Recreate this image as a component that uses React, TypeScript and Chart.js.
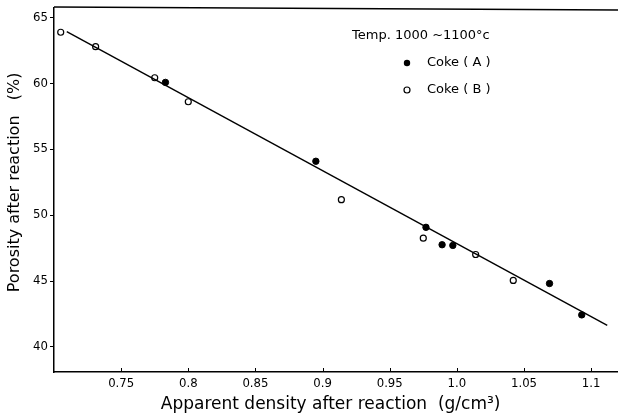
import React, { useEffect, useRef } from "react";
import { Chart, registerables } from "chart.js";

Chart.register(...registerables);

// ---- data ----
const COKE_A_X = [0.783, 0.895, 0.977, 0.989, 0.997, 1.069, 1.093];
const COKE_A_Y = [60.06, 54.08, 49.07, 47.75, 47.7, 44.81, 42.43];
const COKE_B_X = [0.705, 0.731, 0.775, 0.8, 0.914, 0.975, 1.014, 1.042];
const COKE_B_Y = [63.86, 62.77, 60.41, 58.59, 51.17, 48.25, 47.01, 45.04];
const FIT_X = [0.7095, 1.112];
const FIT_Y = [63.91, 41.64];
const X_TICKS = [0.75, 0.8, 0.85, 0.9, 0.95, 1.0, 1.05, 1.1];
const X_TICK_LABELS = ["0.75", "0.8", "0.85", "0.9", "0.95", "1.0", "1.05", "1.1"];
const Y_TICKS = [40, 45, 50, 55, 60, 65];
const Y_TICK_LABELS = ["40", "45", "50", "55", "60", "65"];
const LEGEND_TITLE = "Temp. 1000 ~1100°c";
const SERIES_NAMES = ["Coke ( A )", "Coke ( B )"];
const X_TITLE = "Apparent density after reaction  (g/cm³)  ";
const Y_TITLE = "   Porosity after reaction   (%)";

const FONT = "'DejaVu Sans', sans-serif";
const TICK_FONT = "'DejaVu Sans Condensed', 'DejaVu Sans', sans-serif";

const toPts = (xs: number[], ys: number[]) => xs.map((x, i) => ({ x, y: ys[i] }));

const decor = {
  id: "decor",
  afterDraw(chart: any) {
    const { ctx, chartArea: ca, scales } = chart;
    const xs = scales.x;
    ctx.save();
    ctx.strokeStyle = "#000";
    ctx.lineWidth = 1.5;
    ctx.beginPath();
    ctx.moveTo(ca.left, ca.top - 1);
    ctx.lineTo(ca.right, ca.top + 2);
    ctx.stroke();
    // inward ticks on the x axis
    ctx.lineWidth = 1;
    ctx.beginPath();
    for (const v of X_TICKS) {
      const px = Math.round(xs.getPixelForValue(v)) + 0.5;
      ctx.moveTo(px, ca.bottom);
      ctx.lineTo(px, ca.bottom - 4);
    }
    ctx.stroke();
    // legend
    ctx.fillStyle = "#000";
    ctx.textBaseline = "middle";
    ctx.textAlign = "left";
    ctx.font = `13px ${FONT}`;
    ctx.fillText(LEGEND_TITLE, 352, 36);
    ctx.fillText(SERIES_NAMES[0], 427, 63);
    ctx.fillText(SERIES_NAMES[1], 427, 90);
    ctx.beginPath();
    ctx.arc(407, 63, 3.2, 0, Math.PI * 2);
    ctx.fill();
    ctx.beginPath();
    ctx.lineWidth = 1.2;
    ctx.arc(407, 90, 3, 0, Math.PI * 2);
    ctx.stroke();
    ctx.restore();
  },
};

export default function App() {
  const ref = useRef<HTMLCanvasElement | null>(null);

  useEffect(() => {
    if (!ref.current) return;
    const chart = new Chart(ref.current, {
      type: "scatter",
      data: {
        datasets: [
          {
            label: "fit",
            data: toPts(FIT_X, FIT_Y),
            showLine: true,
            borderColor: "#000",
            borderWidth: 1.4,
            pointRadius: 0,
            fill: false,
          } as any,
          {
            label: SERIES_NAMES[0],
            data: toPts(COKE_A_X, COKE_A_Y),
            pointStyle: "circle",
            pointRadius: 3.2,
            backgroundColor: "#000",
            borderColor: "#000",
            borderWidth: 1,
          },
          {
            label: SERIES_NAMES[1],
            data: toPts(COKE_B_X, COKE_B_Y),
            pointStyle: "circle",
            pointRadius: 3,
            backgroundColor: "#fff",
            borderColor: "#000",
            borderWidth: 1.2,
          },
        ],
      },
      options: {
        animation: false,
        responsive: false,
        devicePixelRatio: 1,
        layout: { autoPadding: false, padding: { top: 8, right: 0, bottom: 0, left: 0 } },
        plugins: { legend: { display: false }, tooltip: { enabled: false } },
        scales: {
          x: {
            type: "linear",
            min: 0.7,
            max: 1.12,
            afterBuildTicks: (s: any) => {
              s.ticks = X_TICKS.map((v) => ({ value: v }));
            },
            afterFit: (s: any) => {
              s.height = 46;
              s.paddingLeft = 0;
              s.paddingRight = 0;
            },
            ticks: {
              autoSkip: false,
              maxRotation: 0,
              padding: 4,
              color: "#000",
              font: { size: 13, family: TICK_FONT },
              callback: (_v: any, i: number) => X_TICK_LABELS[i],
            },
            grid: { display: true, drawOnChartArea: false, drawTicks: false, color: "#000" },
            border: { display: true, color: "#000", width: 1.5 },
            title: {
              display: true,
              text: X_TITLE,
              color: "#000",
              font: { size: 17, family: FONT },
              padding: { top: 0, bottom: 3 },
            },
          },
          y: {
            type: "linear",
            min: 38.1,
            max: 65.7,
            afterBuildTicks: (s: any) => {
              s.ticks = Y_TICKS.map((v) => ({ value: v }));
            },
            afterFit: (s: any) => {
              s.width = 54;
              s.paddingTop = 0;
              s.paddingBottom = 0;
            },
            ticks: {
              padding: 2,
              color: "#000",
              font: { size: 13, family: TICK_FONT },
              callback: (_v: any, i: number) => Y_TICK_LABELS[i],
            },
            grid: { display: true, drawOnChartArea: false, drawTicks: true, tickLength: 4, color: "#000" },
            border: { display: true, color: "#000", width: 1.5 },
            title: {
              display: true,
              text: Y_TITLE,
              color: "#000",
              font: { size: 16, family: FONT },
              padding: { top: 5, bottom: 0 },
            },
          },
        },
      },
      plugins: [decor],
    } as any);
    return () => chart.destroy();
  }, []);

  return (
    <div style={{ position: "fixed", left: 0, top: 0, width: 618, height: 418, background: "#fff" }}>
      <canvas ref={ref} width={618} height={418} style={{ width: 618, height: 418, display: "block" }} />
    </div>
  );
}
